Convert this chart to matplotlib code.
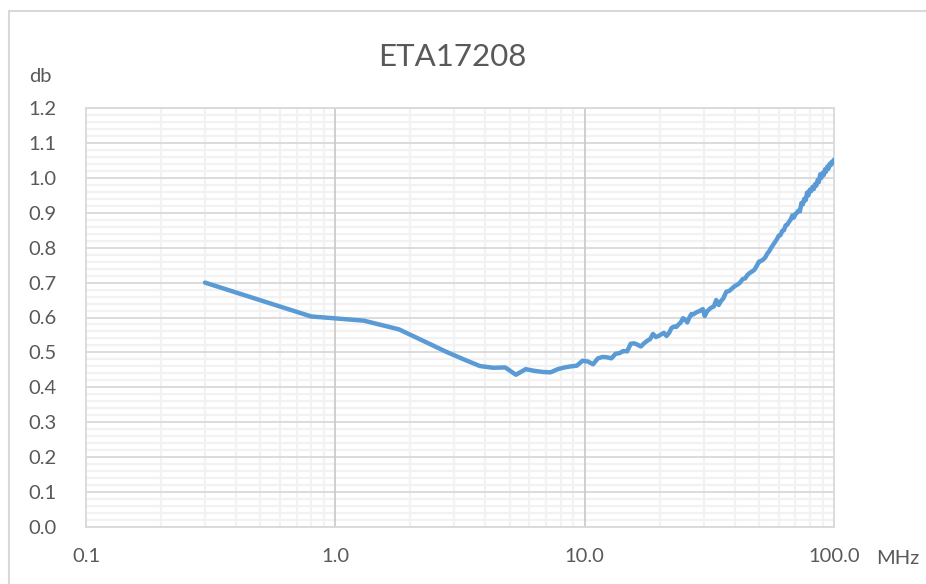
import matplotlib
matplotlib.use('Agg')
import matplotlib.pyplot as plt
import matplotlib.ticker as mticker
from matplotlib.patches import Rectangle

plt.rcParams['font.family'] = ['Lato', 'DejaVu Sans']

# frequency (MHz) and loss (db)
freq_low = [0.3, 0.8, 1.3, 1.8, 2.3, 2.8, 3.3, 3.8, 4.3, 4.8, 5.3, 5.8, 6.3,
            6.8, 7.3, 7.8, 8.3, 8.8, 9.3, 9.8]
db_low = [0.700, 0.603, 0.591, 0.566, 0.530, 0.501, 0.479, 0.461, 0.456, 0.457,
          0.436, 0.452, 0.447, 0.444, 0.443, 0.452, 0.457, 0.460, 0.462, 0.476]

freq_mid = [10.3, 10.8, 11.3, 11.8, 12.3, 12.8, 13.3, 13.8, 14.3, 14.8, 15.3,
            15.8, 16.3, 16.8, 17.3, 17.8, 18.3, 18.8, 19.3, 19.8, 20.3, 20.8,
            21.3, 21.8, 22.3, 22.8, 23.3, 23.8, 24.3, 24.8, 25.3, 25.8, 26.3,
            26.8, 27.3, 27.8, 28.3, 28.8, 29.3, 29.8]
db_mid = [0.474, 0.466, 0.483, 0.487, 0.486, 0.483, 0.496, 0.498, 0.504, 0.503,
          0.525, 0.526, 0.522, 0.517, 0.526, 0.533, 0.538, 0.553, 0.544, 0.547,
          0.552, 0.556, 0.547, 0.556, 0.570, 0.574, 0.573, 0.580, 0.586, 0.598,
          0.594, 0.586, 0.600, 0.610, 0.609, 0.613, 0.616, 0.618, 0.621, 0.624]

freq_high = [30.3, 31, 32, 33, 33.7, 34.5, 35.2, 36, 37, 38, 39, 40, 41, 42,
             43, 44, 45, 46, 47, 48, 49, 50, 51, 52, 53, 54, 55, 56, 57, 58, 59,
             60, 61, 62, 63, 64, 65, 66, 67, 68, 69, 70, 71, 72, 73, 74, 75, 76,
             77, 78, 79, 80, 81, 82, 83, 84, 85, 86, 87, 88, 89, 90, 91, 92, 93,
             94, 95, 96, 97, 98, 99, 100]
db_high = [0.604, 0.618, 0.627, 0.632, 0.650, 0.636, 0.647, 0.655, 0.674, 0.676,
           0.683, 0.690, 0.694, 0.700, 0.710, 0.712, 0.722, 0.728, 0.732, 0.737,
           0.748, 0.760, 0.762, 0.766, 0.772, 0.783, 0.790, 0.800, 0.808, 0.816,
           0.824, 0.834, 0.836, 0.848, 0.850, 0.864, 0.866, 0.874, 0.880, 0.892,
           0.886, 0.896, 0.900, 0.906, 0.904, 0.928, 0.924, 0.940, 0.936, 0.958,
           0.950, 0.966, 0.962, 0.974, 0.968, 0.982, 0.978, 0.994, 0.988, 1.010,
           1.000, 1.014, 1.008, 1.024, 1.018, 1.032, 1.026, 1.040, 1.036, 1.046,
           1.042, 1.052]

freq = freq_low + freq_mid + freq_high
db = db_low + db_mid + db_high

x_ticks = [0.1, 1.0, 10.0, 100.0]
x_labels = ['0.1', '1.0', '10.0', '100.0']
y_ticks = [0.0, 0.1, 0.2, 0.3, 0.4, 0.5, 0.6, 0.7, 0.8, 0.9, 1.0, 1.1, 1.2]

text_color = '#595959'
grid_major = '#d9d9d9'
grid_minor = '#f2f2f2'

fig = plt.figure(figsize=(9.26, 5.84), dpi=100)
fig.patches.append(Rectangle((9 / 926, -0.05), 1.0, 1 - 11 / 584 + 0.05,
                             transform=fig.transFigure, fill=False,
                             edgecolor='#d9d9d9', lw=1.5))

ax = fig.add_axes([86 / 926, 57 / 584, 748 / 926, 419 / 584])
ax.set_xscale('log')
ax.set_xlim(0.1, 100)
ax.set_ylim(0, 1.2)

ax.xaxis.set_major_locator(mticker.FixedLocator(x_ticks))
ax.xaxis.set_major_formatter(mticker.FixedFormatter(x_labels))
ax.xaxis.set_minor_locator(mticker.LogLocator(base=10, subs=range(2, 10)))
ax.xaxis.set_minor_formatter(mticker.NullFormatter())
ax.yaxis.set_major_locator(mticker.FixedLocator(y_ticks))
ax.yaxis.set_major_formatter(mticker.FormatStrFormatter('%.1f'))
ax.yaxis.set_minor_locator(mticker.MultipleLocator(0.02))

# light minor grid first, then the darker major lines on top of it
ax.grid(which='minor', color=grid_minor, lw=1.6)
ax.set_axisbelow(True)
for y in y_ticks:
    ax.axhline(y, color=grid_major, lw=1.3, zorder=0.8)
for x in x_ticks[1:-1]:
    ax.axvline(x, color='#cccccc', lw=1.3, zorder=0.9)

for s in ax.spines.values():
    s.set_color(grid_major)
    s.set_linewidth(1.3)

ax.tick_params(which='both', length=0, colors=text_color, labelsize=14.5)
ax.tick_params(axis='y', pad=21)
ax.tick_params(axis='x', pad=15)

ax.plot(freq, db, color='#5b9bd5', lw=3.2, solid_joinstyle='round',
        solid_capstyle='round', zorder=3)

fig.text(452 / 926, 1 - 57 / 584, 'ETA17208', ha='center', va='center',
         fontsize=22.5, color=text_color)
fig.text(29 / 926, 1 - 76 / 584, 'db', ha='left', va='center',
         fontsize=14.5, color=text_color)
fig.text(876 / 926, 1 - 558 / 584, 'MHz', ha='left', va='center',
         fontsize=14.5, color=text_color)

fig.savefig('out.png', dpi=100)
